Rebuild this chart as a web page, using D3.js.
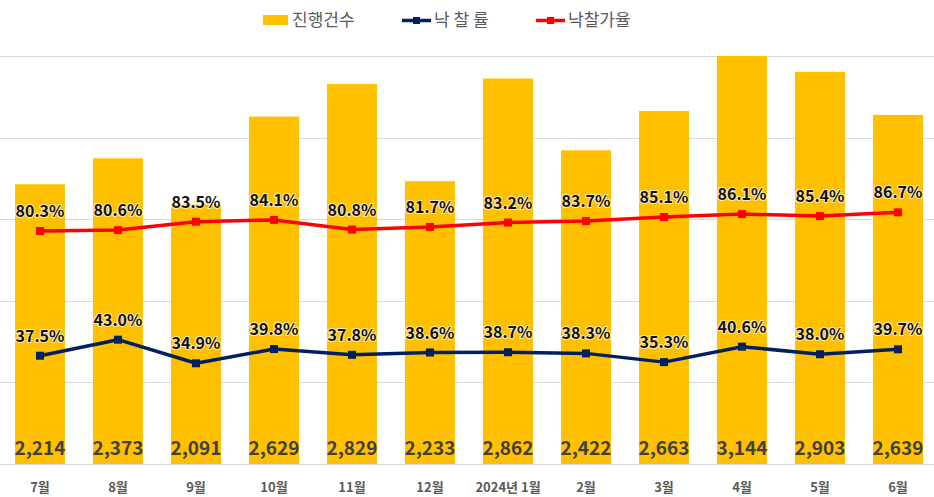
<!DOCTYPE html>
<html>
<head>
<meta charset="utf-8">
<script src="https://cdn.jsdelivr.net/npm/d3@7"></script>
<style>
  body { margin: 0; background: #fff; }
  text { font-family: "Noto Sans CJK KR", "Noto Sans", sans-serif; }
</style>
</head>
<body>
<div id="myVis"></div>
<script>
var width = 934;
var height = 497;

// data
var months = ["7월", "8월", "9월", "10월", "11월", "12월", "2024년 1월", "2월", "3월", "4월", "5월", "6월"];
var cases = [2214, 2373, 2091, 2629, 2829, 2233, 2862, 2422, 2663, 3144, 2903, 2639];
var winRate = [37.5, 43.0, 34.9, 39.8, 37.8, 38.6, 38.7, 38.3, 35.3, 40.6, 38.0, 39.7];
var priceRate = [80.3, 80.6, 83.5, 84.1, 80.8, 81.7, 83.2, 83.7, 85.1, 86.1, 85.4, 86.7];
var barTicks = [500, 1000, 1500, 2000, 2500, 3000];

var plotTop = 56, plotBottom = 464;

var svg = d3.select("#myVis")
            .append("svg")
            .attr("width", width)
            .attr("height", height);

var x = d3.scaleBand()
          .domain(months)
          .range([1, 937])
          .paddingInner(0.36)
          .paddingOuter(0.18);

// bars on the left axis (clipped at 3000), both rates on a hidden 0-140% axis
var y = d3.scaleLinear().domain([500, 3000]).range([plotBottom, plotTop]).clamp(true);
var y2 = d3.scaleLinear().domain([0, 140]).range([plotBottom + 1, plotTop + 1]);

var cx = i => x(months[i]) + x.bandwidth() / 2;

// gridlines
svg.append("g")
   .selectAll("line")
   .data(barTicks)
   .join("line")
   .attr("x1", 0)
   .attr("x2", width)
   .attr("y1", d => Math.round(y(d)) + 0.5)
   .attr("y2", d => Math.round(y(d)) + 0.5)
   .attr("stroke", "#d9d9d9")
   .attr("stroke-width", 1);

// bars
svg.append("g")
   .selectAll("rect")
   .data(cases)
   .join("rect")
   .attr("x", (d, i) => x(months[i]))
   .attr("y", d => y(d))
   .attr("width", x.bandwidth())
   .attr("height", d => plotBottom - y(d))
   .attr("fill", "#ffc000");

// bar value labels
svg.append("g")
   .selectAll("text")
   .data(cases)
   .join("text")
   .attr("x", (d, i) => cx(i))
   .attr("y", 455)
   .attr("text-anchor", "middle")
   .attr("font-size", 19)
   .attr("font-weight", "bold")
   .attr("fill", "#404040")
   .text(d => d3.format(",")(d));

// x axis labels
svg.append("g")
   .selectAll("text")
   .data(months)
   .join("text")
   .attr("x", (d, i) => cx(i))
   .attr("y", 492)
   .attr("text-anchor", "middle")
   .attr("font-size", 13)
   .attr("font-weight", "bold")
   .attr("fill", "#595959")
   .text(d => d);

function drawLine(values, color) {
    var line = d3.line()
                 .x((d, i) => cx(i))
                 .y(d => y2(d));

    svg.append("path")
       .datum(values)
       .attr("d", line)
       .attr("fill", "none")
       .attr("stroke", color)
       .attr("stroke-width", 3.5)
       .attr("stroke-linejoin", "round");

    svg.append("g")
       .selectAll("rect")
       .data(values)
       .join("rect")
       .attr("x", (d, i) => cx(i) - 4)
       .attr("y", d => y2(d) - 4)
       .attr("width", 8)
       .attr("height", 8)
       .attr("fill", color);

    svg.append("g")
       .selectAll("text")
       .data(values)
       .join("text")
       .attr("x", (d, i) => cx(i))
       .attr("y", d => y2(d) - 14)
       .attr("text-anchor", "middle")
       .attr("font-size", 16)
       .attr("font-weight", "bold")
       .attr("fill", "#111")
       .attr("stroke", "rgba(255,255,255,0.7)")
       .attr("stroke-width", 2)
       .attr("paint-order", "stroke")
       .text(d => d.toFixed(1) + "%");
}

drawLine(winRate, "#002060");
drawLine(priceRate, "#ff0000");

// legend
var legend = svg.append("g");
legend.append("rect")
      .attr("x", 263).attr("y", 15).attr("width", 25).attr("height", 10)
      .attr("fill", "#ffc000");
legend.append("text")
      .attr("x", 292).attr("y", 26)
      .attr("font-size", 17).attr("fill", "#595959")
      .text("진행건수");

[["낙 찰 률", "#002060", 402], ["낙찰가율", "#ff0000", 536]].forEach(function(item) {
    legend.append("line")
          .attr("x1", item[2]).attr("x2", item[2] + 29)
          .attr("y1", 20.5).attr("y2", 20.5)
          .attr("stroke", item[1]).attr("stroke-width", 3.5);
    legend.append("rect")
          .attr("x", item[2] + 11).attr("y", 17).attr("width", 7).attr("height", 7)
          .attr("fill", item[1]);
    legend.append("text")
          .attr("x", item[2] + 32).attr("y", 26)
          .attr("font-size", 17).attr("fill", "#595959")
          .text(item[0]);
});
</script>
</body>
</html>
